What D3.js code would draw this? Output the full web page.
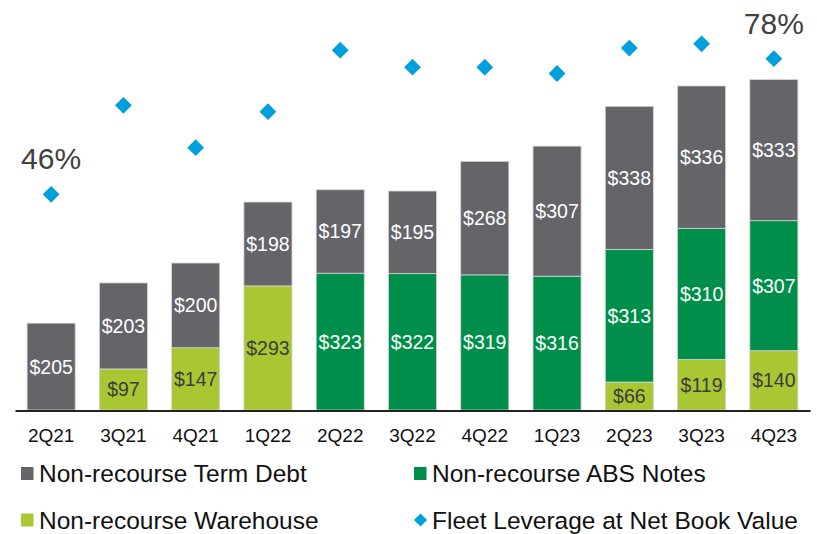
<!DOCTYPE html>
<html lang="en">
<head>
  <meta charset="utf-8" />
  <title>Debt mix and fleet leverage</title>
  <script src="https://d3js.org/d3.v7.min.js"></script>
  <style>
    html, body {
      margin: 0;
      padding: 0;
      background: #fff;
      overflow: hidden;
      font-family: "Liberation Sans", Arial, sans-serif;
    }
  </style>
</head>
<body>
<script>
// quarters on the x axis
const quarters = ["2Q21", "3Q21", "4Q21", "1Q22", "2Q22", "3Q22", "4Q22", "1Q23", "2Q23", "3Q23", "4Q23"];

// debt by type, $ millions (0 = not present)
const warehouse = [0, 97, 147, 293, 0, 0, 0, 0, 66, 119, 140];
const absNotes  = [0, 0, 0, 0, 323, 322, 319, 316, 313, 310, 307];
const termDebt  = [205, 203, 200, 198, 197, 195, 268, 307, 338, 336, 333];

// fleet leverage at net book value, % (only first and last are printed)
const leverage = [46, 67, 57, 65.5, 80, 76, 76, 74.5, 80.5, 81.5, 78];

const width = 817, height = 534;

const svg = d3.select("body").append("svg")
  .attr("width", width)
  .attr("height", height);

const colors = {
  warehouse: "#a9c733",
  abs: "#008f4a",
  term: "#646469",
  diamond: "#009fde"
};

// build stack rows from the arrays
const rows = quarters.map((q, i) => ({
  q,
  warehouse: warehouse[i],
  abs: absNotes[i],
  term: termDebt[i]
}));
const keys = ["warehouse", "abs", "term"];
const stacked = d3.stack().keys(keys)(rows);

const x = d3.scaleBand()
  .domain(quarters)
  .range([15, 810])
  .paddingInner(0.335)
  .paddingOuter(0.1675);

const y = d3.scaleLinear().domain([0, 968]).range([410, 0]);
const yLev = d3.scaleLinear().domain([0, 91.85]).range([389.2, 0]);

// bars
const layer = svg.selectAll(".layer")
  .data(stacked)
  .enter().append("g")
  .attr("fill", d => colors[d.key]);

layer.selectAll("rect")
  .data(d => d.filter(s => s[1] - s[0] > 0))
  .enter().append("rect")
  .attr("x", d => x(d.data.q))
  .attr("width", x.bandwidth())
  .attr("y", d => y(d[1]))
  .attr("height", d => y(d[0]) - y(d[1]))
  .attr("stroke", "#d4d4d4")
  .attr("stroke-width", 0.8);

// value labels inside the segments
stacked.forEach(s => {
  svg.append("g").selectAll("text")
    .data(s.filter(d => d[1] - d[0] > 0))
    .enter().append("text")
    .attr("x", d => x(d.data.q) + x.bandwidth() / 2)
    .attr("y", d => (y(d[0]) + y(d[1])) / 2)
    .attr("dy", "0.36em")
    .attr("text-anchor", "middle")
    .style("font-size", "19.5px")
    .attr("fill", s.key === "warehouse" ? "#3c3c3c" : "#fff")
    .text(d => "$" + (d[1] - d[0]));
});

// x axis
const xAxis = svg.append("g")
  .attr("transform", "translate(0,410.5)")
  .call(d3.axisBottom(x).tickSize(0).tickPadding(18));
xAxis.select(".domain").attr("stroke", "#222").attr("stroke-width", 2);
xAxis.selectAll("text")
  .style("font-family", "'Liberation Sans', Arial, sans-serif")
  .style("font-size", "19px")
  .attr("fill", "#111");

// leverage diamonds
const diamond = d3.symbol().type(d3.symbolDiamond2).size(180);
svg.append("g").selectAll("path")
  .data(leverage)
  .enter().append("path")
  .attr("d", diamond)
  .attr("fill", colors.diamond)
  .attr("transform", (d, i) => `translate(${x(quarters[i]) + x.bandwidth() / 2},${yLev(d)})`);

// first / last leverage labels
const ends = [0, leverage.length - 1];
svg.append("g").selectAll("text")
  .data(ends)
  .enter().append("text")
  .attr("x", i => x(quarters[i]) + x.bandwidth() / 2)
  .attr("y", i => yLev(leverage[i]) - 25)
  .attr("text-anchor", "middle")
  .style("font-size", "30px")
  .attr("fill", "#404040")
  .text(i => leverage[i] + "%");

// legend
const legendItems = [
  { label: "Non-recourse Term Debt", color: colors.term, shape: "square", col: 0, row: 0 },
  { label: "Non-recourse ABS Notes", color: colors.abs, shape: "square", col: 1, row: 0 },
  { label: "Non-recourse Warehouse", color: colors.warehouse, shape: "square", col: 0, row: 1 },
  { label: "Fleet Leverage at Net Book Value", color: colors.diamond, shape: "diamond", col: 1, row: 1 }
];

const legend = svg.append("g").selectAll("g")
  .data(legendItems)
  .enter().append("g")
  .attr("transform", d => `translate(${d.col ? 414 : 21},${d.row ? 520 : 473.5})`);

legend.filter(d => d.shape === "square").append("rect")
  .attr("x", 0).attr("y", -6.5)
  .attr("width", 12.5).attr("height", 13)
  .attr("fill", d => d.color);

legend.filter(d => d.shape === "diamond").append("path")
  .attr("d", d3.symbol().type(d3.symbolDiamond2).size(110))
  .attr("transform", "translate(6.5,0)")
  .attr("fill", d => d.color);

legend.append("text")
  .attr("x", 18)
  .attr("y", 8.5)
  .style("font-size", "24.5px")
  .attr("fill", "#111")
  .text(d => d.label);
</script>
</body>
</html>
